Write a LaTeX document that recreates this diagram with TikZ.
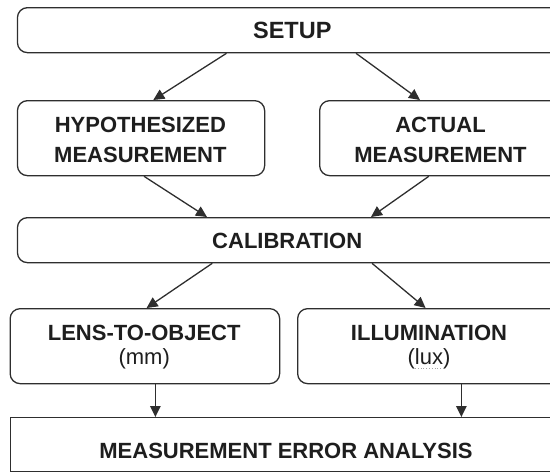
\documentclass[tikz,border=0pt]{standalone}
\usepackage{fontspec}
\setmainfont{Liberation Sans}
\usetikzlibrary{arrows.meta,calc}
\definecolor{ink}{HTML}{1E1E1E}
\definecolor{edge}{HTML}{2E2E2E}
\tikzset{
  box/.style={draw=edge, line width=1.3pt, rounded corners=10pt, fill=white},
  sqbox/.style={draw=edge, line width=1.3pt, fill=white},
  lbl/.style={text=ink, align=center, inner sep=0pt, font=\fontsize{22}{30}\selectfont\bfseries},
  conn/.style={draw=edge, line width=1.3pt, -{Triangle[length=11pt,width=10.5pt]}},
}
\begin{document}
\begin{tikzpicture}[x=1pt,y=-1pt]
\useasboundingbox (0,0) rectangle (550,472);
\clip (0,0) rectangle (550,472);
% boxes
\node[box, anchor=north west, minimum width=580pt, minimum height=45pt] (setup) at (16.8,7) {};
\node[box, anchor=north west, minimum width=247.2pt, minimum height=75pt] (hypo) at (16.8,100) {};
\node[box, anchor=north west, minimum width=320pt, minimum height=75pt] (actual) at (319,100) {};
\node[box, anchor=north west, minimum width=580pt, minimum height=45pt] (cal) at (16.8,217) {};
\node[box, anchor=north west, minimum width=269.5pt, minimum height=75pt] (lens) at (9.5,308) {};
\node[box, anchor=north west, minimum width=320pt, minimum height=75pt] (illum) at (297,308) {};
\node[sqbox, anchor=north west, minimum width=580pt, minimum height=54pt] (mea) at (9.5,417) {};
% labels
\node[lbl, font=\fontsize{23.5}{30}\selectfont\bfseries] (setupt) at (292.3,30.3) {SETUP};
\node[lbl] (hypot) at (140.4,140.3) {HYPOTHESIZED\\MEASUREMENT};
\node[lbl] (actualt) at (440.5,140.3) {ACTUAL\\MEASUREMENT};
\node[lbl] (calt) at (287.2,240.5) {CALIBRATION};
\node[lbl, font=\fontsize{22}{24}\selectfont\bfseries] (lenst) at (144.2,347.5) {LENS-TO-OBJECT\\\mdseries(mm)};
\node[lbl, font=\fontsize{22}{24}\selectfont\bfseries] (illumt) at (429,347.5) {ILLUMINATION\\\mdseries(lux)};
\node[lbl] (meat) at (286,451) {MEASUREMENT ERROR ANALYSIS};
\draw[gray!70, dotted, line width=0.8pt] ($(illumt.south)+(-14,-1)$) -- ++(26,0);
% connectors
\draw[conn] (setup.south -| 226.5,0) -- (hypo.north -| 153.3,0);
\draw[conn] (setup.south -| 356,0) -- (actual.north -| 420,0);
\draw[conn] (hypo.south -| 144,0) -- (cal.north -| 207,0);
\draw[conn] (actual.south -| 428.8,0) -- (cal.north -| 371,0);
\draw[conn] (cal.south -| 212.3,0) -- (lens.north -| 146.6,0);
\draw[conn] (cal.south -| 372,0) -- (illum.north -| 425.6,0);
\draw[conn] (lens.south -| 155.4,0) -- (mea.north -| 155.4,0);
\draw[conn] (illum.south -| 461.4,0) -- (mea.north -| 461.4,0);
\end{tikzpicture}
\end{document}
